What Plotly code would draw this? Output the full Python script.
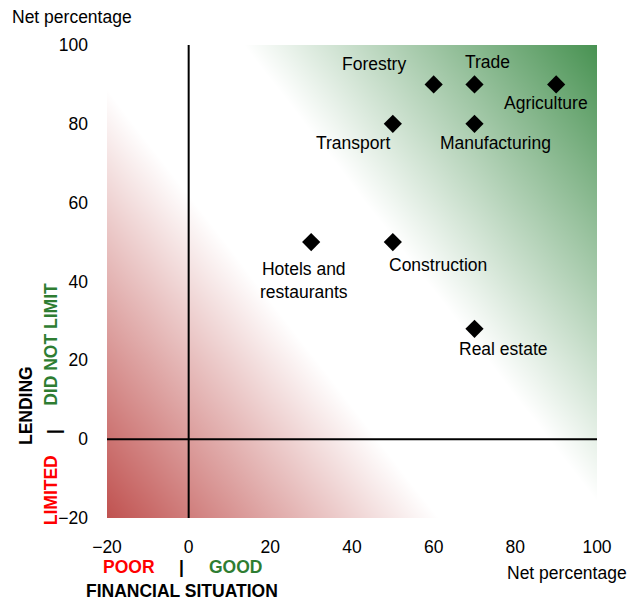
import numpy as np
import plotly.graph_objects as go

# ---- data ----
sectors = ["Forestry", "Trade", "Agriculture", "Transport", "Manufacturing",
           "Hotels and<br>restaurants", "Construction", "Real estate"]
financial_situation = [60, 70, 90, 50, 70, 30, 50, 70]
lending = [90, 90, 90, 80, 80, 50, 50, 28]
tick_vals = [-20, 0, 20, 40, 60, 80, 100]

# label offsets in pixels (styling)
label_dx = [-60, 13, -10, -40, 21, -7, 45, 29]
label_dy = [20, 22, -19, -19, -19, -38, -23, -20]

FONT = "Liberation Sans, Arial, sans-serif"
FS = 17.5
RED_TXT = "#FF0000"
GREEN_TXT = "#2E7D32"

fig = go.Figure()

# background diagonal gradient (decorative)
gx = np.linspace(-25, 105, 27)
gy = np.linspace(-25, 105, 27)
GX, GY = np.meshgrid(gx, gy)
S = 1.34 * GX + GY
smin, smax = -46.8, 234.0
w1 = (62 - smin) / (smax - smin)
w2 = (118 - smin) / (smax - smin)
fig.add_trace(go.Heatmap(
    x=gx, y=gy, z=S, zmin=smin, zmax=smax, zsmooth="best",
    colorscale=[[0, "rgb(192,82,80)"], [w1, "rgb(255,255,255)"],
                [w2, "rgb(255,255,255)"], [1, "rgb(72,146,82)"]],
    showscale=False, hoverinfo="skip"))

fig.add_trace(go.Scatter(
    x=financial_situation, y=lending, mode="markers",
    marker=dict(symbol="diamond", size=14, color="black"),
    hoverinfo="skip", showlegend=False))

for name, xv, yv, dx, dy in zip(sectors, financial_situation, lending, label_dx, label_dy):
    fig.add_annotation(x=xv, y=yv, text=name, showarrow=False,
                       xshift=dx, yshift=dy, xanchor="center", yanchor="middle",
                       font=dict(family=FONT, size=FS, color="black"))

# zero lines
fig.add_shape(type="line", xref="paper", yref="y", x0=0, x1=1, y0=0, y1=0,
              line=dict(color="black", width=2), layer="above")
fig.add_shape(type="line", xref="x", yref="paper", x0=0, x1=0, y0=0, y1=1,
              line=dict(color="black", width=2), layer="above")

def note(text, x, y, color="black", bold=False, angle=0):
    fig.add_annotation(xref="paper", yref="paper", x=x, y=y, text=(f"<b>{text}</b>" if bold else text),
                       showarrow=False, xanchor="center", yanchor="middle", textangle=angle,
                       font=dict(family=FONT, size=FS, color=color))

note("Net percentage", -0.071, 1.06)
note("Net percentage", 0.939, -0.1165)
note("LENDING", -0.165, 0.237, bold=True, angle=-90)
note("DID NOT LIMIT", -0.114, 0.3665, color=GREEN_TXT, bold=True, angle=-90)
note("|", -0.108, 0.182, bold=True, angle=-90)
note("LIMITED", -0.114, 0.059, color=RED_TXT, bold=True, angle=-90)
note("POOR", 0.045, -0.104, color=RED_TXT, bold=True)
note("|", 0.153, -0.104, bold=True)
note("GOOD", 0.263, -0.104, color=GREEN_TXT, bold=True)
note("FINANCIAL SITUATION", 0.153, -0.155, bold=True)

axis_common = dict(range=[-20, 100], tickvals=tick_vals, showgrid=False, zeroline=False,
                   showline=False, ticks="", tickfont=dict(family=FONT, size=FS, color="black"))
# the page body adds an 8px margin, so the figure is 8px smaller than the window
fig.update_layout(
    width=630, height=597,
    margin=dict(l=99, r=41, t=37, b=87),
    plot_bgcolor="white", paper_bgcolor="white",
    xaxis=dict(**axis_common, ticklabelstandoff=16),
    yaxis=dict(**axis_common, ticklabelstandoff=18),
    showlegend=False,
)

fig.write_html("out.html")
